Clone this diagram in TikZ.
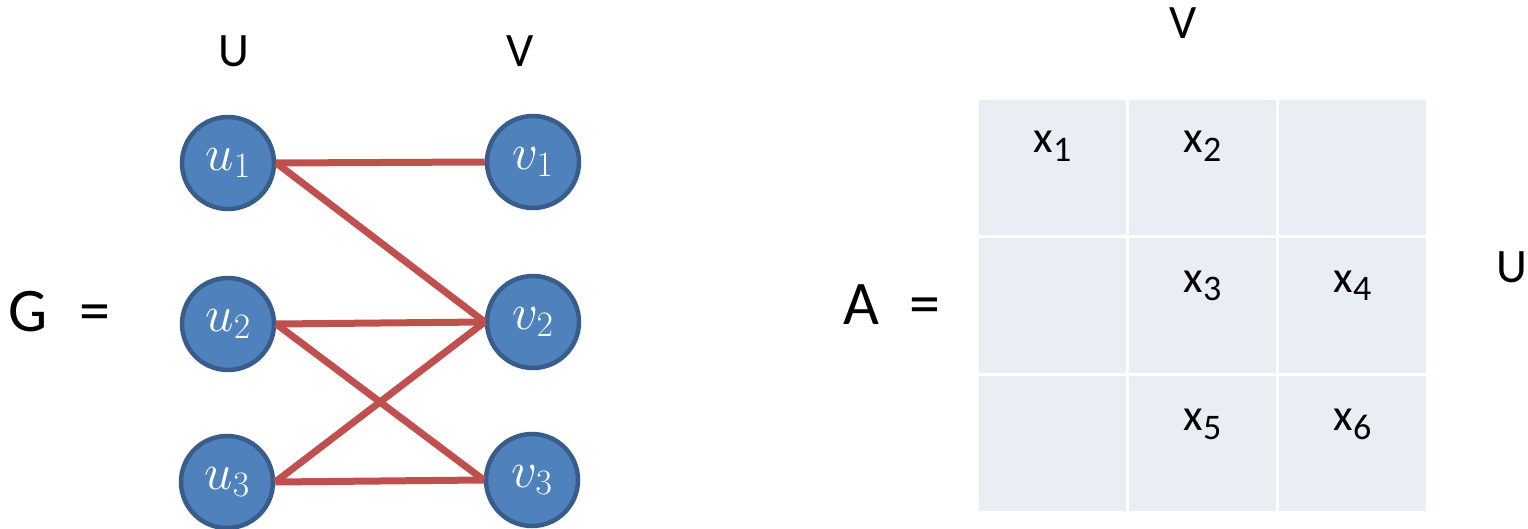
\RequirePackage{fix-cm}
\documentclass[tikz,border=0pt]{standalone}
\usepackage[no-math]{fontspec}
\setmainfont{Carlito}
\definecolor{vfill}{HTML}{4F81BD}
\definecolor{vborder}{HTML}{385D8A}
\definecolor{edgered}{HTML}{C0504D}
\definecolor{cellfill}{HTML}{E9EDF4}
\newcommand{\xent}[1]{x{\fontsize{36}{36}\selectfont\raisebox{-9pt}{#1}}}
\begin{document}
\begin{tikzpicture}[x=1pt,y=-1pt,
  vert/.style={circle,draw=vborder,fill=vfill,line width=4.5pt,minimum size=92pt,inner sep=0pt,text=white,font=\fontsize{51}{55}\selectfont},
  edge/.style={draw=edgered,line width=7pt},
  lab/.style={anchor=base,inner sep=0pt,font=\fontsize{48}{52}\selectfont},
  biglab/.style={anchor=base,inner sep=0pt,font=\fontsize{62}{66}\selectfont},
  cell/.style={rectangle,fill=cellfill,minimum width=147pt,minimum height=135pt,inner sep=0pt,anchor=north west},
  ent/.style={anchor=base,inner sep=0pt,font=\fontsize{45}{50}\selectfont}]
\useasboundingbox (0,0) rectangle (1528,529);

% graph labels
\node[lab] (lu) at (233.5,67) {U};
\node[lab] (lv) at (520,67) {V};
\node[biglab] (gl) at (28.5,331) {G};
\node[biglab] (geq) at (95,331) {=};

% vertices
\node[vert] (u1) at (228,163) {$u_1$};
\node[vert] (u2) at (228,324) {$u_2$};
\node[vert] (u3) at (227,482) {$u_3$};
\node[vert] (v1) at (533,162) {$v_1$};
\node[vert] (v2) at (533,322) {$v_2$};
\node[vert] (v3) at (532,480) {$v_3$};

% edges
\draw[edge] (u1.east) -- (v1.west);
\draw[edge] (u1.east) -- (v2.west);
\draw[edge] (u2.east) -- (v2.west);
\draw[edge] (u2.east) -- (v3.west);
\draw[edge] (u3.east) -- (v2.west);
\draw[edge] (u3.east) -- (v3.west);

% matrix
\node[biglab] (al) at (861.5,324) {A};
\node[biglab] (aeq) at (924.5,324) {=};
\node[lab] (mv) at (1183.5,39) {V};
\node[lab] (mu) at (1511.5,283) {U};

\node[cell] (c11) at (979,100) {};
\node[cell] (c12) at (1129,100) {};
\node[cell] (c13) at (1279,100) {};
\node[cell] (c21) at (979,238) {};
\node[cell] (c22) at (1129,238) {};
\node[cell] (c23) at (1279,238) {};
\node[cell] (c31) at (979,376) {};
\node[cell] (c32) at (1129,376) {};
\node[cell] (c33) at (1279,376) {};

\node[ent] (x1) at (1052.5,153) {\xent{1}};
\node[ent] (x2) at (1202.5,153) {\xent{2}};
\node[ent] (x3) at (1202.5,292) {\xent{3}};
\node[ent] (x4) at (1352.5,292) {\xent{4}};
\node[ent] (x5) at (1202.5,430) {\xent{5}};
\node[ent] (x6) at (1352.5,430) {\xent{6}};
\end{tikzpicture}
\end{document}
